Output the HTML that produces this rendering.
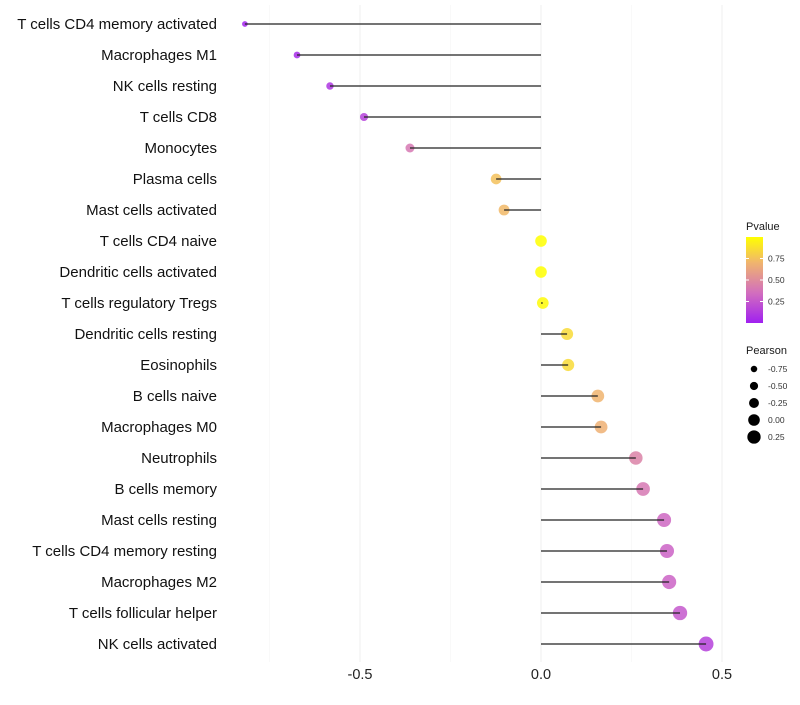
<!DOCTYPE html>
<html><head><meta charset="utf-8"><style>
body{margin:0;background:#fff;font-family:"Liberation Sans",sans-serif}
</style></head><body>
<svg id="c" width="800" height="700" xmlns="http://www.w3.org/2000/svg"></svg>
<script>
const categories=["T cells CD4 memory activated","Macrophages M1","NK cells resting","T cells CD8","Monocytes","Plasma cells","Mast cells activated","T cells CD4 naive","Dendritic cells activated","T cells regulatory  Tregs ","Dendritic cells resting","Eosinophils","B cells naive","Macrophages M0","Neutrophils","B cells memory","Mast cells resting","T cells CD4 memory resting","Macrophages M2","T cells follicular helper","NK cells activated"];
const pearson=[-0.818,-0.674,-0.583,-0.489,-0.362,-0.124,-0.102,0,0,0.005,0.072,0.075,0.157,0.166,0.262,0.282,0.34,0.348,0.354,0.384,0.456];
const pvalue=[0.02,0.05,0.1,0.15,0.4,0.75,0.72,1,1,0.98,0.85,0.85,0.7,0.68,0.45,0.4,0.32,0.3,0.3,0.25,0.15];
const xTicks=[-0.5,0,0.5];
const xTickLabels=["-0.5","0.0","0.5"];
const pTicks=[0.25,0.5,0.75];
const sizeTicks=[-0.75,-0.5,-0.25,0,0.25];
const NS="http://www.w3.org/2000/svg",svg=document.getElementById('c');
const x=v=>541+v*362, y=i=>24+i*31;
const r=v=>Math.max(1.5,5.8+v*3.6);
function col(p){const stops=[[0,[160,32,240]],[0.35,[210,110,190]],[0.7,[240,180,110]],[1,[255,255,0]]];
for(let i=1;i<stops.length;i++){if(p<=stops[i][0]){const a=stops[i-1],b=stops[i],t=(p-a[0])/(b[0]-a[0]);return 'rgb('+a[1].map((c,k)=>Math.round(c+(b[1][k]-c)*t)).join(',')+')';}}return 'rgb(255,255,0)';}
function el(t,a,txt){const e=document.createElementNS(NS,t);for(const k in a)e.setAttribute(k,a[k]);if(txt!=null)e.textContent=txt;svg.appendChild(e);return e;}
[-0.75,-0.25,0.25].forEach(v=>{const g=el('line',{x1:x(v),x2:x(v),y1:5,y2:662,stroke:'#f5f5f5','stroke-width':0.6});

});
xTicks.forEach((v,i)=>{const g=el('line',{x1:x(v),x2:x(v),y1:5,y2:662,stroke:'#efefef','stroke-width':1});


const t=el('text',{x:x(v),y:679,'text-anchor':'middle','font-size':14.5,fill:'#222'},xTickLabels[i]);

});
categories.forEach((c,i)=>{
const t=el('text',{x:217,y:y(i)+5,'text-anchor':'end','font-size':15,fill:'#111'},c);


const p=el('circle',{cx:x(pearson[i]),cy:y(i),r:r(pearson[i]),fill:col(pvalue[i]),opacity:0.85});


const l=el('line',{x1:x(0),x2:x(pearson[i]),y1:y(i),y2:y(i),stroke:'#222','stroke-width':1.2});


});
const defs=el('defs',{});const lg=document.createElementNS(NS,'linearGradient');lg.setAttribute('id','g');lg.setAttribute('x1',0);lg.setAttribute('x2',0);lg.setAttribute('y1',1);lg.setAttribute('y2',0);
[0,0.2,0.35,0.5,0.7,0.85,1].forEach(s=>{const st=document.createElementNS(NS,'stop');st.setAttribute('offset',s);st.setAttribute('stop-color',col(s));lg.appendChild(st);});defs.appendChild(lg);
const lt=el('text',{x:746,y:230,'font-size':11,fill:'#1a1a1a'},'Pvalue');


const cb=el('rect',{x:746,y:237,width:17,height:86,fill:'url(#g)'});


pTicks.forEach(p=>{const yy=323-p*86;el('line',{x1:746,x2:749,y1:yy,y2:yy,stroke:'#fff'});el('line',{x1:760,x2:763,y1:yy,y2:yy,stroke:'#fff'});
const t=el('text',{x:768,y:yy+3,'font-size':8.5,fill:'#333'},p.toFixed(2));

});
const st=el('text',{x:746,y:354,'font-size':11,fill:'#1a1a1a'},'Pearson');


sizeTicks.forEach((v,i)=>{const yy=369+i*17;const cc=el('circle',{cx:754,cy:yy,r:r(v)*0.95+0.3,fill:'#000'});


const t=el('text',{x:768,y:yy+3,'font-size':8.5,fill:'#333'},v.toFixed(2));

});
</script>
</body></html>
